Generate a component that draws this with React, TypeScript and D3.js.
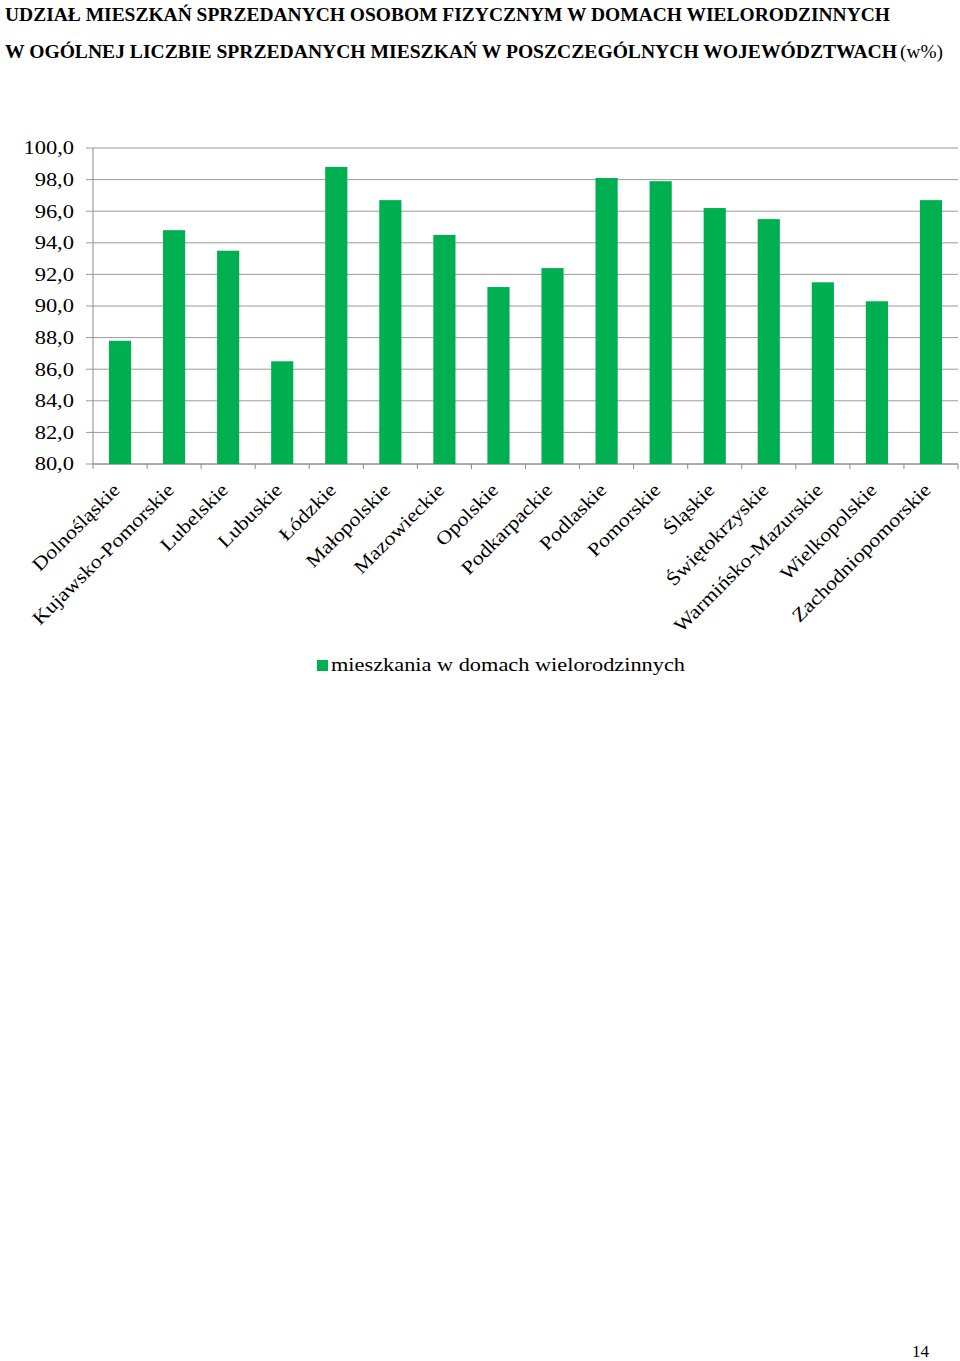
import React from "react";
import * as d3 from "d3";

const categories = [
  "Dolnośląskie",
  "Kujawsko-Pomorskie",
  "Lubelskie",
  "Lubuskie",
  "Łódzkie",
  "Małopolskie",
  "Mazowieckie",
  "Opolskie",
  "Podkarpackie",
  "Podlaskie",
  "Pomorskie",
  "Śląskie",
  "Świętokrzyskie",
  "Warmińsko-Mazurskie",
  "Wielkopolskie",
  "Zachodniopomorskie",
];

const values = [87.8, 94.8, 93.5, 86.5, 98.8, 96.7, 94.5, 91.2, 92.4, 98.1, 97.9, 96.2, 95.5, 91.5, 90.3, 96.7];

const yTicks = [80, 82, 84, 86, 88, 90, 92, 94, 96, 98, 100];

const titleLine1 = "UDZIAŁ MIESZKAŃ SPRZEDANYCH OSOBOM FIZYCZNYM W DOMACH WIELORODZINNYCH";
const titleLine2 = "W OGÓLNEJ LICZBIE SPRZEDANYCH MIESZKAŃ W POSZCZEGÓLNYCH WOJEWÓDZTWACH";
const titleSuffix = "(w%)";
const legendLabel = "mieszkania w domach wielorodzinnych";
const pageNumber = "14";

const W = 960;
const H = 1361;
const left = 93;
const right = 958;
const top = 148;
const bottom = 464;
const green = "#00B050";
const font = "'Liberation Serif', 'Times New Roman', serif";

export default function App() {
  const x = d3.scaleBand<string>().domain(categories).range([left, right]).paddingInner(0.59).paddingOuter(0.295);
  const xb = d3.scaleBand<string>().domain(categories).range([left, right]);
  const y = d3.scaleLinear().domain([80, 100]).range([bottom, top]);
  const fmt = (v: number) => v.toFixed(1).replace(".", ",");

  return (
    <svg width={W} height={H} style={{ position: "absolute", left: 0, top: 0, background: "#fff" }} fontFamily={font}>
      <rect x={0} y={0} width={W} height={H} fill="#fff" />
      <text x={5} y={21} fontSize={19} fontWeight="bold" textLength={885} lengthAdjust="spacingAndGlyphs">
        {titleLine1}
      </text>
      <text x={5} y={58} fontSize={19} fontWeight="bold" textLength={892} lengthAdjust="spacingAndGlyphs">
        {titleLine2}
      </text>
      <text x={900} y={58} fontSize={19} textLength={43} lengthAdjust="spacingAndGlyphs">
        {titleSuffix}
      </text>

      {yTicks.map((t) => (
        <g key={t}>
          <line x1={86} x2={right} y1={y(t)} y2={y(t)} stroke="#9a9a9a" strokeWidth={1} />
          <text
            transform={`translate(74 ${y(t)}) scale(1.25 1)`}
            dy="0.35em"
            textAnchor="end"
            fontSize={18}
          >
            {fmt(t)}
          </text>
        </g>
      ))}
      <line x1={left} x2={left} y1={top} y2={bottom} stroke="#8a8a8a" strokeWidth={1} />
      <line x1={left} x2={right} y1={bottom} y2={bottom} stroke="#8a8a8a" strokeWidth={1} />
      {[...categories.map((c) => xb(c) as number), right].map((px, i) => (
        <line key={i} x1={px} x2={px} y1={bottom} y2={bottom + 5} stroke="#8a8a8a" strokeWidth={1} />
      ))}

      {categories.map((c, i) => (
        <rect key={c} x={x(c)} y={y(values[i])} width={x.bandwidth()} height={bottom - y(values[i])} fill={green} />
      ))}

      {categories.map((c) => {
        const cx = (xb(c) as number) + xb.bandwidth() / 2 + 1;
        const cy = bottom + 27;
        return (
          <text
            key={c}
            transform={`translate(${cx} ${cy}) rotate(-45) scale(1.16 1)`}
            textAnchor="end"
            fontSize={19}
          >
            {c}
          </text>
        );
      })}

      <rect x={317} y={660} width={11} height={11} fill={green} />
      <text x={331} y={671} fontSize={19} textLength={354} lengthAdjust="spacingAndGlyphs">
        {legendLabel}
      </text>

      <text x={912} y={1357} fontSize={17}>
        {pageNumber}
      </text>
    </svg>
  );
}
